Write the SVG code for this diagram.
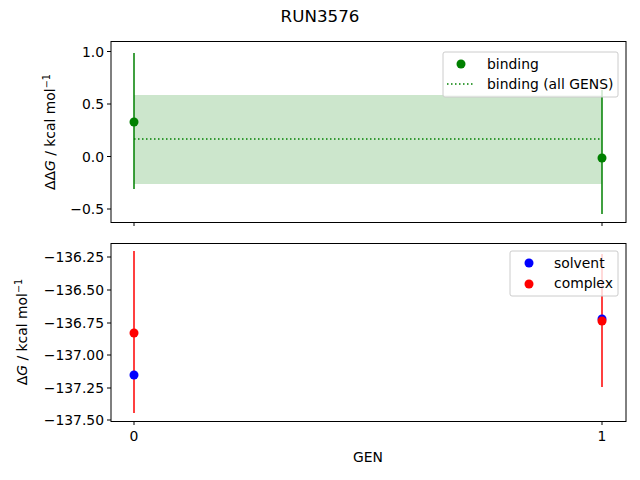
<svg xmlns="http://www.w3.org/2000/svg" width="640" height="480" viewBox="0 0 640 480">
<style>
text{font-family:"DejaVu Sans",sans-serif;font-size:13.9px;fill:#000}
.ax{fill:none;stroke:#000;stroke-width:1}
.tk{stroke:#000;stroke-width:1}
.yl{text-anchor:end}
.leg{fill:#fff;fill-opacity:0.8;stroke:#ccc;stroke-width:1}
.sup{font-size:9.7px}
</style>
<rect width="640" height="480" fill="#fff"/>
<text x="320" y="22" text-anchor="middle" style="font-size:16.7px">RUN3576</text>
<g id="top">
<rect x="134" y="95" width="468" height="89" fill="#008000" fill-opacity="0.2"/>
<line x1="134" y1="139" x2="602" y2="139" stroke="#008000" stroke-width="1.5" stroke-dasharray="1.5,2.5"/>
<line x1="134" y1="53" x2="134" y2="189" stroke="#008000" stroke-width="1.5"/>
<line x1="602" y1="90" x2="602" y2="214" stroke="#008000" stroke-width="1.5"/>
<circle cx="134" cy="122" r="4.5" fill="#008000"/>
<circle cx="602" cy="158" r="4.5" fill="#008000"/>
<rect class="ax" x="111" y="41.5" width="515" height="181"/>
<g class="tk"><line x1="107" y1="51.5" x2="111" y2="51.5"/><line x1="107" y1="104" x2="111" y2="104"/><line x1="107" y1="156.5" x2="111" y2="156.5"/><line x1="107" y1="209" x2="111" y2="209"/><line x1="134" y1="222.5" x2="134" y2="226"/><line x1="602" y1="222.5" x2="602" y2="226"/></g>
<text class="yl" x="104" y="56.5">1.0</text><text class="yl" x="104" y="109">0.5</text><text class="yl" x="104" y="161.5">0.0</text><text class="yl" x="104" y="214">−0.5</text>
<text transform="translate(55,132) rotate(-90)" text-anchor="middle">ΔΔ<tspan font-style="italic">G</tspan> / kcal mol<tspan dy="-5" class="sup">−1</tspan></text>
<rect class="leg" x="443" y="52" width="175" height="45" rx="2"/>
<circle cx="461" cy="64" r="4.5" fill="#008000"/>
<line x1="447" y1="84" x2="475" y2="84" stroke="#008000" stroke-width="1.5" stroke-dasharray="1.5,2.5"/>
<text x="487" y="69">binding</text><text x="487" y="89">binding (all GENS)</text>
</g>
<g id="bottom">
<line x1="134" y1="251" x2="134" y2="413" stroke="#f00" stroke-width="1.5"/>
<line x1="602" y1="254" x2="602" y2="387" stroke="#f00" stroke-width="1.5"/>
<circle cx="134" cy="375" r="4.5" fill="#00f"/>
<circle cx="602" cy="319" r="4.5" fill="#00f"/>
<circle cx="134" cy="333" r="4.5" fill="#f00"/>
<circle cx="602" cy="321" r="4.5" fill="#f00"/>
<rect class="ax" x="111" y="243.5" width="515" height="178"/>
<g class="tk"><line x1="107" y1="257" x2="111" y2="257"/><line x1="107" y1="290" x2="111" y2="290"/><line x1="107" y1="323" x2="111" y2="323"/><line x1="107" y1="355" x2="111" y2="355"/><line x1="107" y1="388" x2="111" y2="388"/><line x1="107" y1="420" x2="111" y2="420"/><line x1="134" y1="421.5" x2="134" y2="425"/><line x1="602" y1="421.5" x2="602" y2="425"/></g>
<text class="yl" x="104" y="262">−136.25</text><text class="yl" x="104" y="295">−136.50</text><text class="yl" x="104" y="328">−136.75</text><text class="yl" x="104" y="360">−137.00</text><text class="yl" x="104" y="393">−137.25</text><text class="yl" x="104" y="425">−137.50</text>
<text transform="translate(27,332) rotate(-90)" text-anchor="middle">Δ<tspan font-style="italic">G</tspan> / kcal mol<tspan dy="-5" class="sup">−1</tspan></text>
<text x="134" y="441" text-anchor="middle">0</text><text x="602" y="441" text-anchor="middle">1</text>
<text x="368" y="462" text-anchor="middle">GEN</text>
<rect class="leg" x="510" y="251" width="108" height="45" rx="2"/>
<circle cx="529" cy="263" r="4.5" fill="#00f"/>
<circle cx="529" cy="284" r="4.5" fill="#f00"/>
<text x="554" y="268">solvent</text><text x="554" y="288">complex</text>
</g>
</svg>
